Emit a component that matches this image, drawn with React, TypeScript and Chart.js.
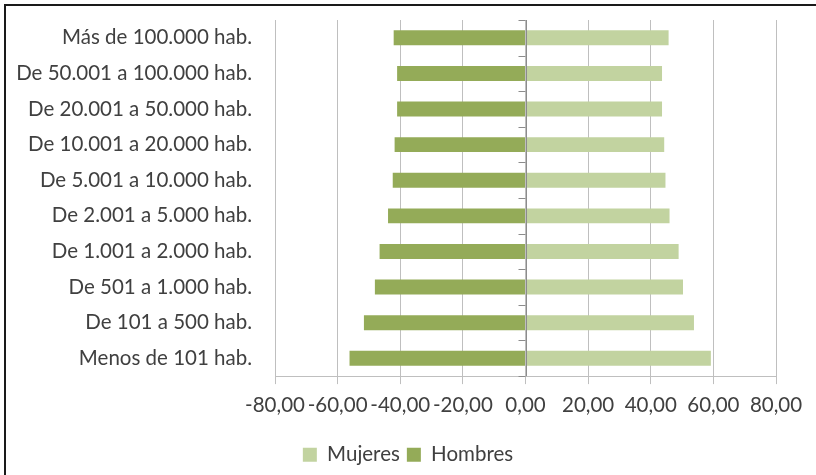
import React, { useEffect, useRef } from "react";
import { Chart, registerables } from "chart.js";

Chart.register(...registerables);

const categories = [
  "Más de 100.000 hab.",
  "De 50.001 a 100.000 hab.",
  "De 20.001 a 50.000 hab.",
  "De 10.001 a 20.000 hab.",
  "De 5.001 a 10.000 hab.",
  "De 2.001 a 5.000 hab.",
  "De 1.001 a 2.000 hab.",
  "De 501 a 1.000 hab.",
  "De 101 a 500 hab.",
  "Menos de 101 hab.",
];

const mujeres = [45.7, 43.6, 43.6, 44.3, 44.7, 46.0, 48.9, 50.3, 53.8, 59.2];
const hombres = [-42.1, -41.0, -41.0, -41.8, -42.4, -43.9, -46.6, -48.1, -51.6, -56.2];

const xMin = -80;
const xMax = 80;
const xStep = 20;

const TEXT = "#404040";
const GRID = "#BFBFBF";
const FONT = "Lato";

const framePlugin = {
  id: "frame",
  beforeDraw(chart: any) {
    const ctx = chart.ctx;
    ctx.save();
    ctx.fillStyle = "#ffffff";
    ctx.fillRect(0, 0, chart.width, chart.height);
    ctx.strokeStyle = "#1a1a1a";
    ctx.lineWidth = 2;
    ctx.strokeRect(5, 5, chart.width + 10, chart.height + 10);
    ctx.restore();
  },
};

const centerTicksPlugin = {
  id: "centerTicks",
  afterDatasetsDraw(chart: any) {
    const ctx = chart.ctx;
    const x = chart.scales.x.getPixelForValue(0);
    const y = chart.scales.y;
    ctx.save();
    ctx.strokeStyle = "#8C8C8C";
    ctx.lineWidth = 1;
    for (let i = 0; i <= categories.length; i++) {
      const py = Math.round(y.getPixelForValue(i - 0.5)) + 0.5;
      ctx.beginPath();
      ctx.moveTo(x - 7, py);
      ctx.lineTo(x, py);
      ctx.stroke();
    }
    ctx.beginPath();
    ctx.moveTo(Math.round(x) + 0.5, chart.chartArea.top);
    ctx.lineTo(Math.round(x) + 0.5, chart.chartArea.bottom);
    ctx.stroke();
    ctx.restore();
  },
};

export default function App() {
  const ref = useRef<HTMLCanvasElement>(null);
  useEffect(() => {
    if (!ref.current) return;
    const chart = new Chart(ref.current, {
      type: "bar",
      data: {
        labels: categories,
        datasets: [
          {
            label: "Mujeres",
            data: mujeres,
            backgroundColor: "#C2D3A0",
            barPercentage: 0.42,
            categoryPercentage: 1,
          },
          {
            label: "Hombres",
            data: hombres,
            backgroundColor: "#94AB58",
            barPercentage: 0.42,
            categoryPercentage: 1,
          },
        ],
      },
      options: {
        indexAxis: "y",
        animation: false,
        responsive: false,
        layout: { padding: { left: 0, right: 0, top: 20, bottom: 0 } },
        plugins: {
          tooltip: { enabled: false },
          legend: {
            position: "bottom",
            labels: {
              boxWidth: 14,
              boxHeight: 14,
              color: TEXT,
              padding: 7,
              font: { family: FONT, size: 20.5 },
            },
          },
        },
        scales: {
          x: {
            stacked: true,
            min: xMin,
            max: xMax,
            ticks: {
              stepSize: xStep,
              color: TEXT,
              padding: 9,
              maxRotation: 0,
              autoSkip: false,
              font: { family: FONT, size: 20.5 },
              callback: (v: any) => Number(v).toFixed(2).replace(".", ","),
            },
            grid: { color: GRID, lineWidth: 1, tickLength: 8 },
            border: { color: GRID },
            afterFit: (s: any) => {
              s.height = 61.4;
            },
          },
          y: {
            stacked: true,
            grid: { display: false },
            border: { display: false },
            ticks: {
              color: TEXT,
              padding: 15,
              autoSkip: false,
              font: { family: FONT, size: 20.5 },
            },
            afterFit: (s: any) => {
              s.width = 275;
              s.paddingTop = 0;
              s.paddingBottom = 0;
            },
          },
          yRight: {
            type: "category",
            position: "right",
            display: true,
            grid: { display: false },
            border: { display: false },
            ticks: { display: false },
            afterFit: (s: any) => {
              s.width = 40;
              s.paddingTop = 0;
              s.paddingBottom = 0;
            },
          },
        },
      },
      plugins: [framePlugin, centerTicksPlugin],
    });
    return () => chart.destroy();
  }, []);
  return (
    <div style={{ position: "absolute", left: 0, top: 0, width: 816, height: 475 }}>
      <canvas ref={ref} width={816} height={475} />
    </div>
  );
}
